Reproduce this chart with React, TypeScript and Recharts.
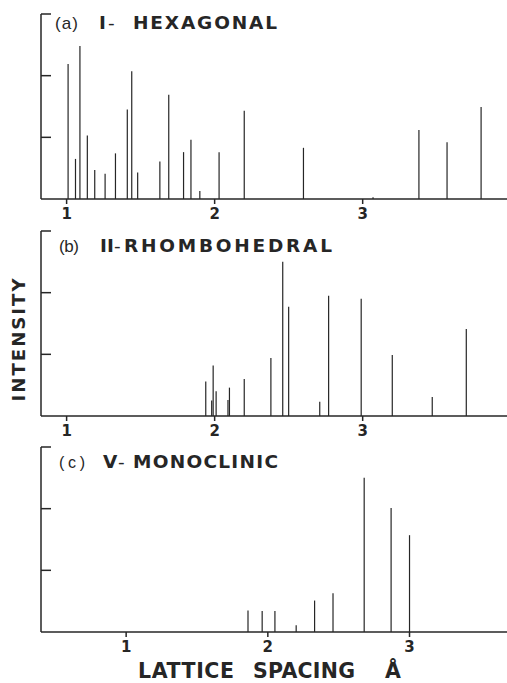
import { ErrorBar, Scatter, ScatterChart, XAxis, YAxis } from "recharts";

// lattice spacing (Å) and relative intensity
const hexSpacing = [
  1.01, 1.06, 1.09, 1.14, 1.19, 1.26, 1.33, 1.41, 1.44, 1.48, 1.63, 1.69, 1.79,
  1.84, 1.9, 2.03, 2.2, 2.6, 3.07, 3.38, 3.57, 3.8,
];
const hexIntensity = [
  2.19, 0.65, 2.48, 1.03, 0.47, 0.41, 0.74, 1.45, 2.07, 0.43, 0.61, 1.69, 0.76,
  0.96, 0.13, 0.76, 1.43, 0.83, 0.03, 1.12, 0.92, 1.49,
];

const rhombSpacing = [
  1.94, 1.98, 1.99, 2.01, 2.09, 2.1, 2.2, 2.38, 2.46, 2.5, 2.71, 2.77, 2.99, 3.2,
  3.47, 3.7,
];
const rhombIntensity = [
  0.56, 0.25, 0.82, 0.4, 0.26, 0.46, 0.6, 0.94, 2.5, 1.77, 0.23, 1.95, 1.9, 0.99,
  0.31, 1.41,
];

const monoSpacing = [1.86, 1.96, 2.05, 2.2, 2.33, 2.46, 2.68, 2.87, 3.0];
const monoIntensity = [0.35, 0.34, 0.34, 0.11, 0.51, 0.63, 2.5, 2.01, 1.57];

const xTicks = [1, 2, 3];
const yTicks = [1, 2, 3];

const INK = "#262626";
const FONT = "'DejaVu Sans', 'Liberation Sans', sans-serif";
const THIN = "'Liberation Sans', Arial, sans-serif";

const toSticks = (ds: number[], hs: number[]) =>
  ds.map((d, i) => ({ d, h: hs[i], err: [hs[i], 0] }));

function Panel({
  data,
  domain,
  top,
}: {
  data: { d: number; h: number; err: number[] }[];
  domain: [number, number];
  top: number;
}) {
  return (
    <div style={{ position: "absolute", left: 0, top, width: 507, height: 225 }}>
      <ScatterChart
        width={507}
        height={225}
        margin={{ top: 14, right: 0, bottom: 0, left: 41 }}
      >
        <XAxis
          type="number"
          dataKey="d"
          domain={domain}
          ticks={xTicks}
          allowDataOverflow
          height={26}
          tickSize={5}
          tickMargin={4}
          stroke={INK}
          strokeWidth={1.5}
          tick={{ fill: INK, fontSize: 15, fontWeight: 700, fontFamily: FONT }}
        />
        <YAxis
          type="number"
          dataKey="h"
          domain={[0, 3]}
          ticks={yTicks}
          allowDataOverflow
          width={1}
          mirror
          tickFormatter={() => ""}
          tickSize={10}
          stroke={INK}
          strokeWidth={1.5}
        />
        <Scatter data={data} shape={() => <g />} isAnimationActive={false}>
          <ErrorBar
            dataKey="err"
            direction="y"
            width={0}
            stroke={INK}
            strokeWidth={1.2}
            isAnimationActive={false}
          />
        </Scatter>
      </ScatterChart>
    </div>
  );
}

export default function App() {
  return (
    <div
      style={{
        position: "absolute",
        left: 0,
        top: 0,
        width: 507,
        height: 683,
        background: "#fff",
      }}
    >
      <Panel data={toSticks(hexSpacing, hexIntensity)} domain={[0.827, 3.975]} top={0} />
      <Panel data={toSticks(rhombSpacing, rhombIntensity)} domain={[0.827, 3.975]} top={217} />
      <Panel data={toSticks(monoSpacing, monoIntensity)} domain={[0.399, 3.688]} top={433} />

      <svg
        width={507}
        height={683}
        style={{ position: "absolute", left: 0, top: 0, pointerEvents: "none" }}
        fontFamily={FONT}
        fill={INK}
      >
        <text x={55} y={28.5} fontSize={17} fontFamily={THIN} textLength={23} lengthAdjust="spacing">(a)</text>
        <text x={99} y={28.5} fontSize={18.5} fontWeight={700}>I</text>
        <text x={108} y={28.5} fontSize={18.5}>-</text>
        <text x={133} y={28.5} fontSize={18.5} fontWeight={700} textLength={144} lengthAdjust="spacing">HEXAGONAL</text>

        <text x={59} y={251.7} fontSize={17} fontFamily={THIN} textLength={20} lengthAdjust="spacing">(b)</text>
        <text x={100} y={251.7} fontSize={18.5} fontWeight={700}>II</text>
        <text x={114} y={251.7} fontSize={18.5}>-</text>
        <text x={124} y={251.7} fontSize={18.5} fontWeight={700} textLength={208} lengthAdjust="spacing">RHOMBOHEDRAL</text>

        <text x={59} y={468.3} fontSize={16} fontFamily={THIN} textLength={26} lengthAdjust="spacing">(c)</text>
        <text x={103} y={468.3} fontSize={18.5} fontWeight={700}>V</text>
        <text x={118} y={468.3} fontSize={18.5}>-</text>
        <text x={133} y={468.3} fontSize={18.5} fontWeight={700} textLength={145} lengthAdjust="spacing">MONOCLINIC</text>

        <text
          transform="translate(25,340) rotate(-90)"
          textAnchor="middle"
          fontSize={18}
          fontWeight={700}
          textLength={123}
          lengthAdjust="spacing"
        >
          INTENSITY
        </text>

        <text x={138} y={678} fontSize={20.5} fontWeight={700} textLength={96} lengthAdjust="spacing">LATTICE</text>
        <text x={253} y={678} fontSize={20.5} fontWeight={700} textLength={102} lengthAdjust="spacing">SPACING</text>
        <text x={385} y={678} fontSize={20.5} fontWeight={700}>Å</text>
      </svg>
    </div>
  );
}
